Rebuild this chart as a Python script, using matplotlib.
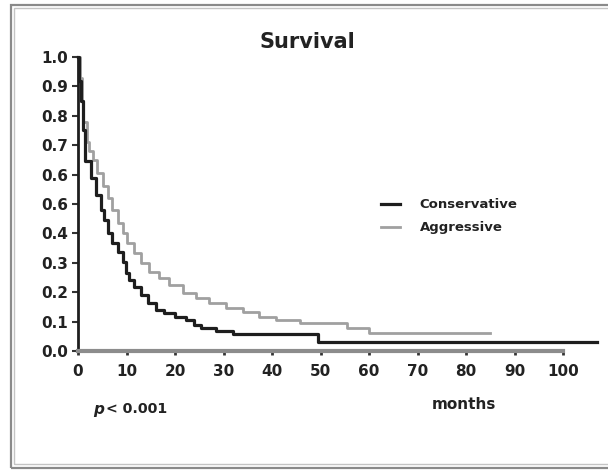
import matplotlib
matplotlib.use("Agg")
import matplotlib.pyplot as plt
from matplotlib.patches import Rectangle

plt.rcParams['font.family'] = ['DejaVu Sans']

# Data
cons_t = [0, 0.3, 0.6, 1.0, 1.4, 2.7, 3.7, 4.7, 5.4, 6.1, 7.1, 8.2, 9.2, 9.9, 10.6, 11.6, 13.0,
          14.4, 16.1, 17.8, 19.9, 22.3, 24.0, 25.4, 28.5, 31.9, 49.5, 107]
cons_s = [1.0, 0.92, 0.85, 0.75, 0.645, 0.59, 0.53, 0.48, 0.445, 0.40, 0.367, 0.338, 0.304, 0.265, 0.241, 0.219, 0.19,
          0.163, 0.139, 0.129, 0.117, 0.105, 0.088, 0.078, 0.069, 0.058, 0.03, 0.03]

aggr_t = [0, 0.4, 0.8, 1.0, 1.8, 2.3, 3.0, 4.0, 5.1, 6.1, 7.1, 8.2, 9.2, 10.2, 11.6, 13.0, 14.7, 16.8,
          18.8, 21.6, 24.3, 27.1, 30.5, 34.0, 37.4, 40.8, 45.8, 55.4, 60.0, 85.0]
aggr_s = [1.0, 0.93, 0.85, 0.78, 0.71, 0.68, 0.65, 0.605, 0.56, 0.52, 0.48, 0.435, 0.40, 0.367, 0.333, 0.30, 0.27, 0.248,
          0.224, 0.198, 0.18, 0.163, 0.146, 0.134, 0.117, 0.105, 0.095, 0.078, 0.062, 0.062]

x_ticks = [0, 10, 20, 30, 40, 50, 60, 70, 80, 90, 100]
y_ticks = [0.0, 0.1, 0.2, 0.3, 0.4, 0.5, 0.6, 0.7, 0.8, 0.9, 1.0]
y_labels = ['0.0', '0.1', '0.2', '0.3', '0.4', '0.6', '0.6', '0.7', '0.8', '0.9', '1.0']

W, H = 608, 473
fig = plt.figure(figsize=(W / 100, H / 100), dpi=100)

# double frame
fig.patches.append(Rectangle((10.5 / W, 5.5 / H), 700 / W, (468 - 5.5) / H,
                             transform=fig.transFigure, fill=False, edgecolor='#8a8a8a', lw=1.6))
fig.patches.append(Rectangle((13.5 / W, 9.5 / H), 700 / W, (465 - 9.5) / H,
                             transform=fig.transFigure, fill=False, edgecolor='#c4c4c4', lw=1.0))

ax = fig.add_axes([78 / W, (H - 351) / H, (601.8 - 78) / W, 294 / H])
ax.set_xlim(0, 108)
ax.set_ylim(0, 1.0)

ax.step(cons_t, cons_s, where='post', color='#1e1e1e', lw=2.3, label='Conservative', clip_on=False, zorder=3)
ax.step(aggr_t, aggr_s, where='post', color='#a0a0a0', lw=2.0, label='Aggressive', clip_on=False, zorder=2)

for s in ['top', 'right']:
    ax.spines[s].set_visible(False)
ax.spines['left'].set_color('#1e1e1e')
ax.spines['left'].set_linewidth(2.0)
ax.spines['bottom'].set_color('#8c8c8c')
ax.spines['bottom'].set_linewidth(3.0)
ax.spines['bottom'].set_bounds(0, 100)

ax.set_xticks(x_ticks)
ax.set_xticklabels([str(v) for v in x_ticks], fontsize=11, fontweight='bold', color='#222222')
ax.set_yticks(y_ticks)
ax.set_yticklabels(y_labels, fontsize=11, fontweight='bold', color='#222222')
ax.tick_params(axis='y', direction='out', length=4, width=1.5, color='#333333', pad=3)
ax.tick_params(axis='x', direction='out', length=3, width=2, color='#333333', pad=6)

fig.text(307 / W, 1 - 42 / H, 'Survival', fontsize=15, fontweight='bold', color='#222222',
         ha='center', va='center')

leg = ax.legend(loc='upper left', bbox_to_anchor=((376 - 78) / (601.8 - 78), (351 - 193) / 294),
                frameon=False, prop={'size': 9.5, 'weight': 'bold'}, handlelength=1.4,
                handletextpad=1.5, labelspacing=0.75, borderaxespad=0)
for t in leg.get_texts():
    t.set_color('#222222')

fig.text(93 / W, 1 - 409 / H, 'p', fontsize=11, fontweight='bold', fontstyle='italic',
         color='#222222', va='center', ha='left')
fig.text(106 / W, 1 - 409 / H, '< 0.001', fontsize=10.2, fontweight='bold', color='#222222',
         va='center', ha='left')
fig.text(464 / W, 1 - 404 / H, 'months', fontsize=11, fontweight='bold', color='#222222',
         va='center', ha='center')

fig.savefig('out.png', dpi=100)
